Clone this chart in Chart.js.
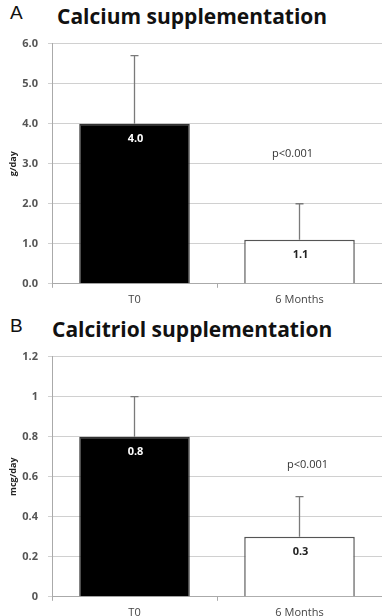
<!DOCTYPE html>
<html>
<head>
<meta charset="utf-8">
<script src="https://cdn.jsdelivr.net/npm/chart.js@4"></script>
<style>
  body{ margin:0; background:#fff; width:382px; height:616px; position:relative; overflow:hidden; }
  .panel{ position:absolute; left:0; font-family:"Open Sans", sans-serif; color:#111; }
  .letter{ position:absolute; left:10px; font-size:19px; font-family:"Liberation Sans", sans-serif; }
  .title{ position:absolute; font-size:21px; font-weight:bold; white-space:nowrap; }
  .wrap{ position:absolute; left:0; width:382px; }
</style>
</head>
<body>

<div class="panel" style="top:2px"><span class="letter">A</span><span class="title" style="left:57px">Calcium supplementation</span></div>
<div class="wrap" style="top:27px;height:284px"><canvas id="chartA"></canvas></div>

<div class="panel" style="top:315px"><span class="letter">B</span><span class="title" style="left:52px">Calcitriol supplementation</span></div>
<div class="wrap" style="top:340px;height:284px"><canvas id="chartB"></canvas></div>

<script>
const categories = ["T0", "6 Months"];

const calciumMean = [4.0, 1.1];
const calciumSD = [1.7, 0.9];
const calciumTicks = ["0.0", "1.0", "2.0", "3.0", "4.0", "5.0", "6.0"];

const calcitriolMean = [0.8, 0.3];
const calcitriolSD = [0.2, 0.2];
const calcitriolTicks = ["0", "0.2", "0.4", "0.6", "0.8", "1", "1.2"];

const pText = "p<0.001";

// error bars, value labels and p value
const extrasPlugin = {
    id: "extras",
    afterDatasetsDraw(chart){
        const ctx = chart.ctx;
        const o = chart.options.plugins.extras;
        const meta = chart.getDatasetMeta(0);
        const y = chart.scales.y;

        meta.data.forEach((bar, i) => {
            let top = y.getPixelForValue(o.means[i] + o.errs[i]);
            ctx.save();
            ctx.strokeStyle = "#7a7a7a";
            ctx.lineWidth = 1.3;
            ctx.beginPath();
            ctx.moveTo(bar.x, bar.y);
            ctx.lineTo(bar.x, top);
            ctx.moveTo(bar.x - 4, top);
            ctx.lineTo(bar.x + 4, top);
            ctx.stroke();

            ctx.fillStyle = i == 0 ? "#fff" : "#222";
            ctx.font = "bold 11px 'Open Sans'";
            ctx.textAlign = "center";
            ctx.textBaseline = "middle";
            let txt = o.means[i].toFixed(1);
            ctx.fillText(txt, bar.x + 1, bar.y + 15);
            ctx.restore();
        });

        let b = meta.data[1];
        ctx.save();
        ctx.fillStyle = "#333";
        ctx.font = "11px 'Open Sans'";
        ctx.textAlign = "center";
        ctx.textBaseline = "middle";
        ctx.fillText(pText, b.x + o.pShift, y.getPixelForValue(o.pValueY));
        ctx.restore();
    }
};

function makeChart(id, means, errs, max, step, tickLabels, unit, pY, pShift, padTop, xPad){

    new Chart(document.getElementById(id), {
        type: "bar",
        data: {
            labels: categories,
            datasets: [{
                data: means,
                backgroundColor: ["#000", "#fff"],
                borderColor: ["#333", "#555"],
                borderWidth: 1.5,
                barPercentage: 0.67,
                categoryPercentage: 1
            }]
        },
        options: {
            responsive: true,
            maintainAspectRatio: false,
            animation: false,
            layout: { padding: { top: padTop, right: 0, bottom: 0, left: 0 } },
            plugins: {
                legend: { display: false },
                tooltip: { enabled: false },
                extras: { means: means, errs: errs, pValueY: pY, pShift: pShift }
            },
            scales: {
                x: {
                    offset: true,
                    grid: { offset: true, drawOnChartArea: false, tickLength: 4, color: "#aaa" },
                    border: { color: "#aaa" },
                    ticks: { color: "#444", padding: xPad, font: { family: "Open Sans", size: 11 } }
                },
                y: {
                    min: 0,
                    max: max,
                    afterFit(scale){ scale.width = 52; },
                    grid: { color: "#d0d0d0", tickLength: 4, lineWidth: 1 },
                    border: { color: "#aaa" },
                    ticks: {
                        stepSize: step,
                        padding: 10,
                        color: "#555",
                        font: { family: "Open Sans", size: 11, weight: "bold" },
                        callback: (v, i) => tickLabels[i]
                    },
                    title: {
                        display: true,
                        text: unit,
                        color: "#222",
                        padding: { top: 8, bottom: 0 },
                        font: { family: "Open Sans", size: 9, weight: "bold" }
                    }
                }
            }
        },
        plugins: [extrasPlugin]
    });

}

makeChart("chartA", calciumMean, calciumSD, 6, 1, calciumTicks, "g/day", 3.25, -7, 10, 5);
makeChart("chartB", calcitriolMean, calcitriolSD, 1.2, 0.2, calcitriolTicks, "mcg/day", 0.66, 8, 15, 5);
</script>
</body>
</html>
